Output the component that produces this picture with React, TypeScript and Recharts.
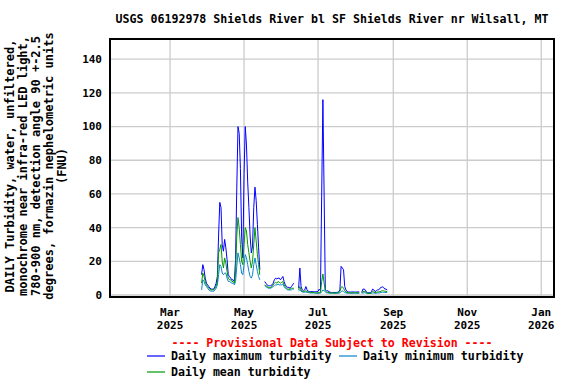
import { LineChart, Line, XAxis, YAxis, CartesianGrid, ReferenceArea } from 'recharts';

// x values are day numbers counted from Jan 1 2025 (= day 0)
const X_DOMAIN = [9.5, 375.5];
const Y_DOMAIN = [-1.2, 152];

const MONTH_TICKS = [59, 120, 181, 243, 304, 365];
const MONTH_LABELS = ['Mar', 'May', 'Jul', 'Sep', 'Nov', 'Jan'];
const YEAR_LABELS = ['2025', '2025', '2025', '2025', '2025', '2026'];
const Y_TICKS = [0, 20, 40, 60, 80, 100, 120, 140];

const TITLE = 'USGS 06192978 Shields River bl SF Shields River nr Wilsall, MT';
const Y_LABEL_LINES = [
  'DAILY Turbidity, water, unfiltered,',
  'monochrome near infra-red LED light,',
  '780-900 nm, detection angle 90 +-2.5',
  'degrees, formazin nephelometric units',
  '(FNU)',
];
const NOTE = '---- Provisional Data Subject to Revision ----';
const SERIES_NAMES = ['Daily maximum turbidity', 'Daily minimum turbidity', 'Daily mean turbidity'];

// Mar 27 - May 14
const start1 = 85;
const max1 = [12, 18, 15, 10, 7, 6, 5, 4, 3.5, 3.5, 3.5, 5, 7, 11, 35, 55, 52, 30, 26, 33, 28, 21, 12, 11, 10, 9, 9, 8, 21, 63, 100, 96, 75, 35, 22, 72, 100, 89, 67, 52, 35, 25, 29, 52, 64, 56, 42, 28, 15];
const mean1 = [7, 13, 11, 8, 6, 5, 4, 3.5, 3, 3, 3, 4, 5.5, 8, 25, 27, 30, 20, 16, 22, 19, 14, 10, 9, 9, 8, 8, 7, 13, 35, 46, 40, 30, 20, 18, 30, 40, 38, 30, 25, 20, 16, 20, 30, 40, 32, 24, 18, 12];
const min1 = [3, 9, 8, 6, 5, 4, 3, 2.5, 2.2, 2.2, 2.2, 3, 4, 6, 12, 18, 17, 13, 12, 13, 13, 10, 8, 8, 7.5, 7, 7, 6, 8, 17, 25, 22, 18, 13, 12, 18, 24, 22, 18, 14, 11, 10, 12, 18, 22, 18, 14, 11, 9];

// May 18 - Jun 11
const start2 = 137;
const max2 = [8, 7, 6, 5.5, 5.5, 5.5, 6, 7, 9, 10, 9.5, 10, 10, 9, 10, 11, 8, 6, 5, 4.5, 4.5, 4, 5, 6, 7];
const mean2 = [6, 5.5, 5, 4.5, 4.5, 4.5, 5, 6, 7, 7.5, 7, 8, 7.5, 7, 7.5, 8, 6, 5, 4, 3.5, 3.5, 3.5, 4, 4, 4];
const min2 = [5.5, 5, 4.5, 4, 4, 4, 4.5, 5, 5.5, 6, 6, 6.5, 6, 6, 6, 6.5, 5, 4, 3.5, 3, 3, 3, 3, 3.5, 3.5];

// Jun 15 - Aug 4
const start3 = 165;
const max3 = [4, 16, 5, 3, 2.5, 3, 5, 3, 2.2, 2, 2, 2, 1.9, 2, 2, 2, 2.2, 3.5, 2.5, 60, 116, 60, 3, 2.5, 2.5, 2, 1.6, 1.5, 1.5, 1.5, 1.5, 1.5, 1.6, 2, 3, 17, 16, 15, 5, 3, 2, 1.8, 1.8, 1.7, 1.8, 1.8, 1.8, 1.7, 1.8, 1.8, 1.8];
const mean3 = [3, 5, 3, 2.2, 2, 2.2, 2.5, 2, 1.8, 1.6, 1.5, 1.5, 1.5, 1.4, 1.3, 1.3, 1.2, 1.5, 1.5, 8, 12.5, 7, 2.5, 1.8, 1.6, 1.5, 1.3, 1.2, 1.2, 1.2, 1.2, 1.2, 1.2, 1.4, 2, 4.5, 5, 4, 2.5, 1.8, 1.5, 1.3, 1.3, 1.3, 1.3, 1.3, 1.3, 1.3, 1.3, 1.3, 1.3];
const min3 = [2.5, 3, 2.2, 1.8, 1.6, 1.6, 1.8, 1.5, 1.4, 1.3, 1.2, 1.2, 1.2, 1.1, 1, 1, 1, 1, 1, 2, 3, 2.5, 1.8, 1.3, 1.2, 1.1, 1, 1, 1, 1, 1, 1, 1, 1, 1.2, 2, 2.5, 2, 1.5, 1.2, 1.1, 1, 1, 1, 1, 1, 1, 1, 1, 1, 1];

// Aug 6 - Aug 27
const start4 = 217;
const max4 = [1.5, 3.5, 3.5, 3, 1.5, 1.3, 1.3, 1.3, 2, 3.5, 3, 2, 2.5, 3, 3, 4, 4.5, 4.8, 4.5, 3.5, 3.5, 3];
const mean4 = [1.2, 2, 2.2, 2, 1.2, 1.1, 1, 1, 1.3, 2, 1.8, 1.4, 1.5, 1.8, 1.8, 2, 2.3, 2.5, 2.5, 2.2, 2.2, 2];
const min4 = [1, 1.2, 1.3, 1.3, 1, 0.9, 0.9, 0.9, 1, 1.2, 1.2, 1, 1, 1.2, 1.2, 1.3, 1.5, 1.6, 1.6, 1.5, 1.5, 1.5];

const MAX_COLOR = '#0000ff';
const MIN_COLOR = '#0a84cc';
const MEAN_COLOR = '#009900';
const FONT = '"DejaVu Sans Mono", "Liberation Mono", monospace';

type Row = { day: number; max: number | null; mean: number | null; min: number | null };

const segments = [
  { start: start1, max: max1, mean: mean1, min: min1 },
  { start: start2, max: max2, mean: mean2, min: min2 },
  { start: start3, max: max3, mean: mean3, min: min3 },
  { start: start4, max: max4, mean: mean4, min: min4 },
];

const chartData: Row[] = [];
segments.forEach((seg, i) => {
  // a null row breaks the lines across missing days
  if (i > 0) chartData.push({ day: seg.start - 1, max: null, mean: null, min: null });
  seg.max.forEach((v, j) => {
    chartData.push({ day: seg.start + j, max: v, mean: seg.mean[j], min: seg.min[j] });
  });
});

function MonthTick(props: any) {
  const { x, payload } = props;
  const i = MONTH_TICKS.indexOf(payload.value);
  return (
    <g fontFamily={FONT} fontWeight="bold" fontSize={11} fill="#000" textAnchor="middle">
      <text x={x} y={316}>{MONTH_LABELS[i]}</text>
      <text x={x} y={328.5}>{YEAR_LABELS[i]}</text>
    </g>
  );
}

export default function App() {
  const legend = [
    { name: SERIES_NAMES[0], color: MAX_COLOR, x: 147, y: 356 },
    { name: SERIES_NAMES[1], color: MIN_COLOR, x: 339, y: 356 },
    { name: SERIES_NAMES[2], color: MEAN_COLOR, x: 147, y: 372 },
  ];

  return (
    <div style={{ position: 'absolute', left: 0, top: 0, width: 576, height: 384, background: '#fff' }}>
      <LineChart
        width={576}
        height={384}
        data={chartData}
        margin={{ top: 39, right: 22, bottom: 47, left: 0 }}
      >
        <CartesianGrid stroke="#cccccc" strokeWidth={1.3} />
        <XAxis
          type="number"
          dataKey="day"
          domain={X_DOMAIN}
          ticks={MONTH_TICKS}
          allowDataOverflow
          tickLine={false}
          axisLine={false}
          height={40}
          tick={<MonthTick />}
        />
        <YAxis
          type="number"
          domain={Y_DOMAIN}
          ticks={Y_TICKS}
          allowDataOverflow
          width={110}
          tickLine={false}
          axisLine={false}
          tick={{ fill: '#000', fontSize: 11, fontFamily: FONT, fontWeight: 'bold' }}
        />
        <Line type="linear" dataKey="max" stroke={MAX_COLOR} strokeWidth={1} dot={false} isAnimationActive={false} />
        <Line type="linear" dataKey="min" stroke={MIN_COLOR} strokeWidth={1} dot={false} isAnimationActive={false} />
        <Line type="linear" dataKey="mean" stroke={MEAN_COLOR} strokeWidth={1} dot={false} isAnimationActive={false} />
        <ReferenceArea
          x1={X_DOMAIN[0]}
          x2={X_DOMAIN[1]}
          y1={Y_DOMAIN[0]}
          y2={Y_DOMAIN[1]}
          fill="none"
          stroke="#000"
          strokeWidth={2}
        />
      </LineChart>

      <svg width={576} height={384} style={{ position: 'absolute', left: 0, top: 0, pointerEvents: 'none' }}>
        <g fontFamily={FONT} fontWeight="bold">
          <text x={332} y={23} fontSize={11.6} textAnchor="middle" fill="#000">{TITLE}</text>
          {Y_LABEL_LINES.map((line, i) => (
            <text
              key={i}
              transform={`translate(${10 + i * 13}, 166) rotate(-90)`}
              fontSize={12}
              textAnchor="middle"
              dominantBaseline="central"
              fill="#000"
            >
              {line}
            </text>
          ))}
          <text x={332} y={346.5} fontSize={11.6} textAnchor="middle" fill="#ff0000">{NOTE}</text>
          {legend.map((item) => (
            <g key={item.name}>
              <line x1={item.x} x2={item.x + 18} y1={item.y} y2={item.y} stroke={item.color} strokeWidth={1.2} />
              <text x={item.x + 24} y={item.y + 4} fontSize={11.6} fill="#000">{item.name}</text>
            </g>
          ))}
        </g>
      </svg>
    </div>
  );
}
